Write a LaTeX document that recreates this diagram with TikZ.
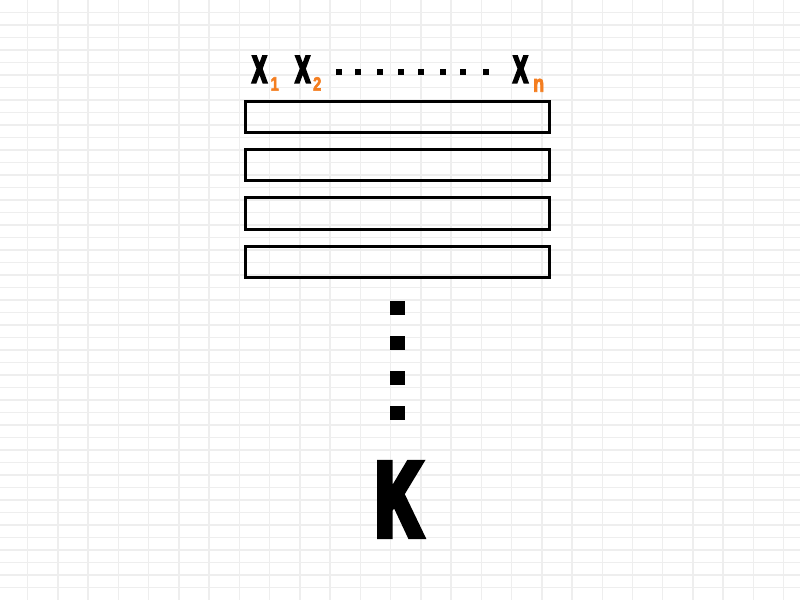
\documentclass[tikz,border=0pt]{standalone}
\usepackage{fontspec}
\newfontfamily\condX{Liberation Sans Bold}[FakeStretch=0.58,FakeBold=5]
\newfontfamily\condK{Liberation Sans Bold}[FakeStretch=0.6,FakeBold=6]
\newfontfamily\condS{Liberation Sans Bold}[FakeStretch=0.75,FakeBold=3]
\definecolor{gridc}{HTML}{EEEEEE}
\definecolor{subor}{HTML}{F47E20}
\tikzset{
  gridline/.style={draw=gridc,line width=1.5pt},
  rowbox/.style={draw=black,line width=3pt,minimum width=304pt,minimum height=31.5pt,inner sep=0pt,outer sep=0pt},
  xlab/.style={anchor=base,inner sep=0pt,font=\condX\fontsize{38.7}{40}\selectfont},
  sublab/.style={anchor=base,inner sep=0pt,text=subor,font=\condS\fontsize{19.5}{20}\selectfont},
  nlab/.style={anchor=base,inner sep=0pt,text=subor,font=\condS\fontsize{24}{25}\selectfont},
  klab/.style={anchor=base,inner sep=0pt,font=\condK\fontsize{106}{110}\selectfont},
  hdot/.style={fill=black,minimum width=6pt,minimum height=6pt,inner sep=0pt,outer sep=0pt},
  vdot/.style={fill=black,minimum width=15pt,minimum height=14pt,inner sep=0pt,outer sep=0pt}
}
\begin{document}
\begin{tikzpicture}[x=1pt,y=-1pt]
\useasboundingbox (0,0) rectangle (800,600);
\fill[white] (0,0) rectangle (800,600);
\foreach \k in {0,...,25} {\draw[gridline] ({27.7+30.24*\k},0) -- ({27.7+30.24*\k},600);}
\foreach \k in {1,...,47} {\draw[gridline] (0,{12.5*\k}) -- (800,{12.5*\k});}
% top labels
\node[xlab] (x1) at (259.5,82.7) {X};
\node[sublab] (s1) at (274.7,90.7) {1};
\node[xlab] (x2) at (302.7,82.7) {X};
\node[sublab] (s2) at (317.2,90.7) {2};
\node[xlab] (xn) at (520.5,82.7) {X};
\node[nlab] (sn) at (538.7,91.7) {n};
\foreach \i/\x in {1/338.8,2/358,3/379.7,4/401.3,5/421.3,6/443,7/463,8/485.5}
  {\node[hdot] (d\i) at (\x,72) {};}
% rows
\node[rowbox] (r1) at (397.5,116.8) {};
\node[rowbox] (r2) at (397.5,165.2) {};
\node[rowbox] (r3) at (397.5,213.6) {};
\node[rowbox] (r4) at (397.5,262) {};
% vertical dots
\foreach \i/\y in {1/308,2/343,3/378,4/413}
  {\node[vdot] (v\i) at (397.5,\y) {};}
\node[klab] (k) at (399,536) {K};
\end{tikzpicture}
\end{document}
